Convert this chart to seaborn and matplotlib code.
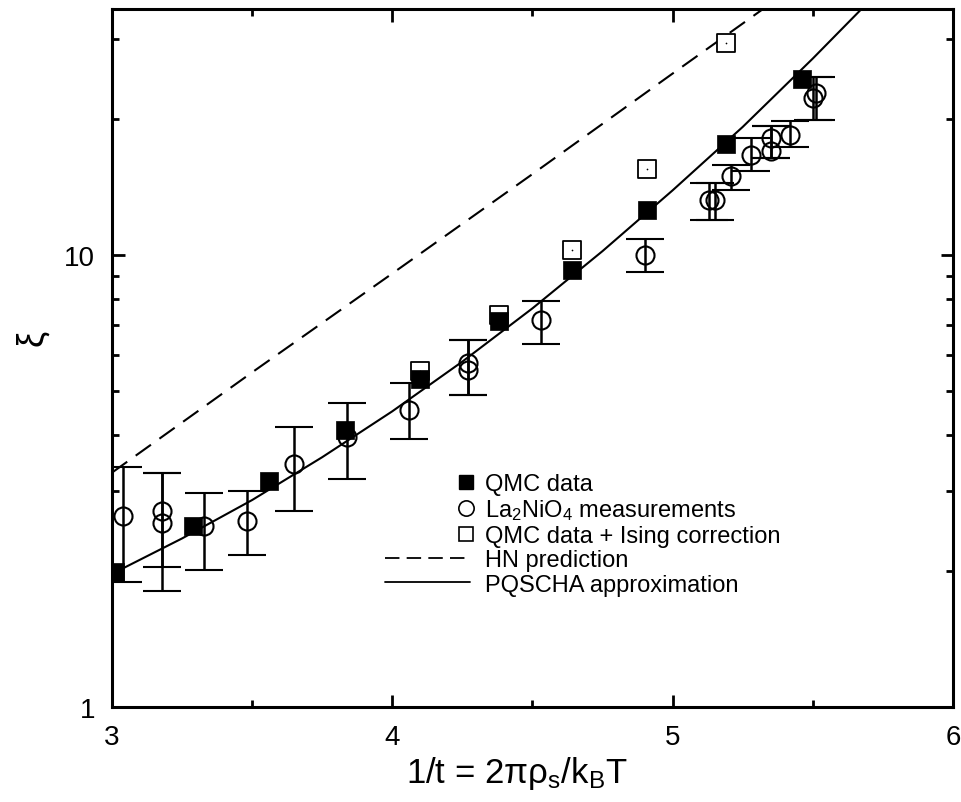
import numpy as np
import matplotlib
matplotlib.use("Agg")
import matplotlib.pyplot as plt
from matplotlib.lines import Line2D
from matplotlib.legend_handler import HandlerLine2D
from matplotlib.ticker import MultipleLocator, LogLocator, NullFormatter, FixedLocator, FixedFormatter
import seaborn as sns

sns.set_style("ticks")
plt.rcParams['font.family'] = ['Liberation Sans', 'DejaVu Sans']
plt.rcParams['mathtext.fontset'] = 'custom'
plt.rcParams['mathtext.rm'] = 'Liberation Sans'
plt.rcParams['mathtext.it'] = 'Liberation Sans:italic'
plt.rcParams['text.color'] = 'k'
plt.rcParams['axes.labelcolor'] = 'k'

# QMC data (filled squares)
qmc_x = [3.01, 3.29, 3.56, 3.83, 4.10, 4.38, 4.64, 4.91, 5.19, 5.46]
qmc_y = [1.99, 2.51, 3.17, 4.09, 5.33, 7.14, 9.26, 12.6, 17.6, 24.5]

# QMC data + Ising correction (open squares)
ising_x = [4.10, 4.38, 4.64, 4.91, 5.19]
ising_y = [5.53, 7.37, 10.26, 15.5, 29.4]

# La2NiO4 measurements (open circles, with error bars)
la_x = [3.04, 3.18, 3.18, 3.33, 3.48, 3.65, 3.84, 4.06, 4.27, 4.27, 4.53,
        4.90, 5.13, 5.15, 5.21, 5.28, 5.35, 5.35, 5.42, 5.50, 5.51]
la_y = [2.64, 2.71, 2.55, 2.51, 2.58, 3.44, 3.95, 4.53, 5.77, 5.56, 7.18,
        10.0, 13.2, 13.2, 14.96, 16.6, 17.0, 18.1, 18.4, 22.3, 22.8]
la_lo = [1.89, 1.81, 2.04, 2.01, 2.17, 2.71, 3.19, 3.91, 4.89, 4.89, 6.35,
         9.17, 11.96, 11.96, 13.9, 15.3, 16.4, 16.4, 17.3, 19.9, 19.9]
la_hi = [3.39, 3.30, 3.30, 2.97, 3.00, 4.17, 4.70, 5.20, 6.48, 6.48, 7.92,
         10.85, 14.4, 14.4, 15.8, 18.1, 19.3, 19.3, 19.8, 24.7, 24.7]

# HN prediction (dashed)
hn_x = [3.0, 3.5, 4.0, 4.5, 5.0, 5.35]
hn_y = [3.3, 5.5, 9.1, 15.1, 25.2, 36.0]

# PQSCHA approximation (solid)
pq_x = [3.0, 3.25, 3.5, 3.75, 4.0, 4.25, 4.5, 4.75, 5.0, 5.25, 5.5, 5.75]
pq_y = [1.97, 2.36, 2.87, 3.57, 4.51, 5.81, 7.62, 10.2, 13.9, 19.2, 27.2, 39.1]


class RightMarker(HandlerLine2D):
    # single marker at the right end of the handle box
    def get_numpoints(self, legend):
        return 2

    def get_xdata(self, legend, xdescent, ydescent, width, height, fontsize):
        x = [-xdescent + width - 0.15 * fontsize]
        return x, x


fig = plt.figure(figsize=(9.62, 8.03), dpi=100)
ax = fig.add_axes([0.1164, 0.1183, 0.8742, 0.8692])
ax.set_yscale('log')

sns.lineplot(x=hn_x, y=hn_y, ax=ax, color='k', lw=1.5, dashes=(9, 5))
sns.lineplot(x=pq_x, y=pq_y, ax=ax, color='k', lw=1.5)

lay = np.array(la_y)
ax.errorbar(la_x, lay, yerr=[lay - np.array(la_lo), np.array(la_hi) - lay],
            fmt='o', ms=13, mfc='none', mec='k', mew=1.5, ecolor='k',
            elinewidth=1.8, capsize=14, capthick=1.8, zorder=3)

sns.scatterplot(x=ising_x, y=ising_y, ax=ax, marker='s', s=150, facecolor='white',
                edgecolor='k', linewidth=1.3, zorder=4)
sns.scatterplot(x=ising_x, y=ising_y, ax=ax, marker='.', s=6, color='k', linewidth=0, zorder=5)
sns.scatterplot(x=qmc_x, y=qmc_y, ax=ax, marker='s', s=170, color='k',
                edgecolor='k', linewidth=0.5, zorder=6)

ax.set_xlim(3, 6)
ax.set_ylim(1, 35)
ax.xaxis.set_major_locator(MultipleLocator(1))
ax.xaxis.set_minor_locator(MultipleLocator(0.5))
ax.yaxis.set_major_locator(FixedLocator([1, 10]))
ax.yaxis.set_major_formatter(FixedFormatter(['1', '10']))
ax.yaxis.set_minor_locator(LogLocator(base=10, subs=range(2, 10)))
ax.yaxis.set_minor_formatter(NullFormatter())
ax.tick_params(which='both', direction='in', top=True, right=True, width=2,
               labelsize=20, colors='k')
ax.tick_params(which='major', length=9, pad=12)
ax.tick_params(which='minor', length=5)
for s in ax.spines.values():
    s.set_linewidth(2.2)
    s.set_color('k')

ax.set_xlabel(r'1/t = 2πρ$_\mathrm{s}$/k$_\mathrm{B}$T', fontsize=25)
ax.xaxis.set_label_coords(0.482, -0.068)
ax.set_ylabel('ξ', fontsize=26, rotation=90)
ax.yaxis.set_label_coords(-0.074, 0.53)

handles = [
    Line2D([], [], marker='s', color='k', ls='none', ms=10),
    Line2D([], [], marker='o', mfc='none', mec='k', ls='none', ms=11, mew=1.2),
    Line2D([], [], marker='s', mfc='none', mec='k', ls='none', ms=10, mew=1.2),
    Line2D([], [], color='k', ls=(0, (8, 4)), lw=1.3),
    Line2D([], [], color='k', lw=1.3),
]
labels = ['QMC data', r'La$_2$NiO$_4$ measurements', 'QMC data + Ising correction',
          'HN prediction', 'PQSCHA approximation']
ax.legend(handles, labels, loc='upper left', bbox_to_anchor=(0.3246, 0.335),
          frameon=False, fontsize=17, handlelength=3.6, handletextpad=0.65,
          labelspacing=0.1, borderpad=0, borderaxespad=0, labelcolor='k',
          handler_map={h: RightMarker() for h in handles[:3]})

fig.savefig('out.png', dpi=100)
